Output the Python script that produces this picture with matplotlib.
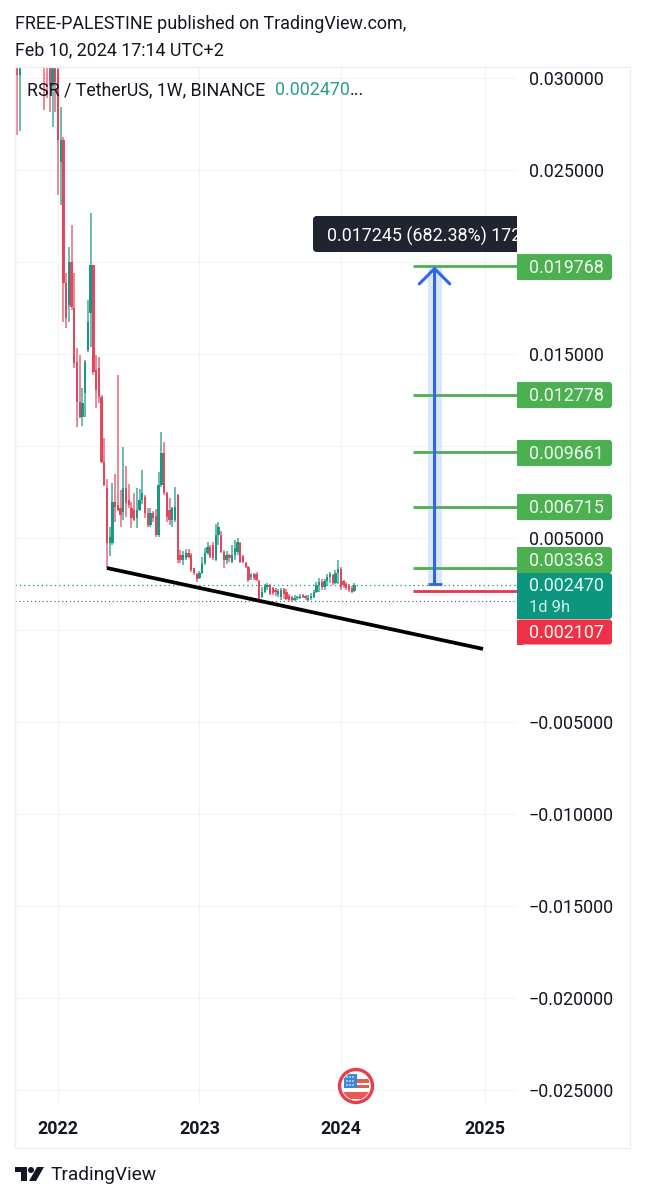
import datetime as dt
import matplotlib
matplotlib.use("Agg")
import matplotlib.pyplot as plt
import matplotlib.dates as mdates
from matplotlib.patches import Circle, FancyBboxPatch, Polygon, Rectangle

plt.rcParams['font.family'] = ['Roboto', 'DejaVu Sans']

# weekly candles, first one is 15 weeks before 2022-01-03
first_week = dt.datetime(2021, 9, 20)
opens = [
    .0325, .03018, .0335, .0385, .0360, .0345, .0395, .0365, .0350, .0340,
    .0330, .0335, .0325, .0296, .0320,
    .0305, .02545, .02665, .01887, .01767, .02001, .01751, .01457, .0124, .01158,
    .01289, .01523, .01724, .01985, .01414, .01425, .01267, .00914, .00772, .00473,
    .00473, .00696, .0068, .00663, .00642, .00772, .00707, .00663, .00653, .00609,
    .00653, .00707, .00723, .00636, .00571, .00636, .0062, .00517, .00789, .00963,
    .00745, .00653, .00598, .00598, .00734, .00408, .00381, .00392, .00419, .00408,
    .00337, .00305, .00283, .0031, .00364, .00419, .00451, .00462, .00381, .00517,
    .00517, .00424, .00381, .00408, .0037, .00408, .00424, .00473, .00402, .00364,
    .00343, .00288, .00305, .00305, .00266, .00179, .00207, .00234, .00245, .00228,
    .00218, .00196, .00179, .00223, .00207, .00185, .00179, .00163, .00174, .00174,
    .0019, .00185, .00163, .00174, .00179, .00207, .00245, .00261, .00234, .00266,
    .00288, .00299, .00256, .0031, .00332, .00266, .0025, .00239, .00228, .00212,
]
highs = [
    .036, .036, .0400, .0420, .0395, .0410, .0430, .0385, .0375, .0360,
    .0345, .0350, .034, .034, .033,
    .0325, .02844, .02681, .01941, .02083, .02202, .01941, .01534, .01495, .01316,
    .01468, .01795, .02268, .01985, .01495, .01485, .01278, .01044, .00821, .0056,
    .00799, .00848, .01387, .00761, .00995, .00892, .00794, .00696, .00745, .00772,
    .00767, .0087, .00734, .00663, .00663, .00647, .00658, .00859, .01077, .01022,
    .0075, .00718, .00669, .00778, .0074, .00435, .0043, .0044, .0044, .00419,
    .00337, .0031, .00321, .00397, .00446, .00479, .00462, .00479, .00576, .00587,
    .00538, .00435, .0043, .00413, .00462, .00489, .005, .00479, .00408, .0037,
    .00348, .0031, .0031, .00315, .00272, .00234, .0025, .00256, .0025, .00234,
    .00228, .00223, .00228, .00228, .00223, .00196, .00185, .0019, .00185, .00196,
    .00196, .0019, .0019, .00201, .00218, .00261, .00283, .00277, .00277, .00305,
    .00315, .00305, .00326, .00381, .00343, .00272, .00261, .0025, .00239, .00256,
]
lows = [
    .02692, .02714, .0325, .0345, .0330, .0330, .0350, .0335, .0320, .0315,
    .02828, .02893, .02817, .02735, .02817,
    .02366, .02311, .01675, .01642, .01675, .0174, .01425, .01104, .01153, .01109,
    .01158, .01512, .01539, .01387, .01207, .01234, .0091, .00783, .00337, .00402,
    .00462, .00587, .00647, .0056, .00598, .00614, .00663, .00555, .00593, .00555,
    .00647, .00685, .00609, .0056, .0056, .00587, .00506, .00506, .00778, .00734,
    .00587, .00571, .0056, .00587, .00364, .00364, .00353, .00381, .00392, .00315,
    .00299, .00261, .00277, .00305, .00353, .00408, .00392, .00381, .00375, .00462,
    .00419, .00337, .00359, .0037, .00364, .00381, .00408, .00365, .00364, .00337,
    .00261, .00272, .00272, .00266, .00152, .00174, .00201, .00218, .0019, .0019,
    .00185, .00179, .00163, .00169, .00163, .00158, .00158, .00158, .00163, .00169,
    .00174, .00163, .00158, .00163, .00174, .00201, .00207, .00218, .00218, .00239,
    .00256, .00245, .0025, .0025, .00218, .00228, .00218, .00207, .00201, .00207,
]
closes = [
    .03018, .0335, .0385, .0360, .0345, .0395, .0365, .0350, .0340, .0330,
    .0310, .0308, .02964, .0320, .0298,
    .02665, .02665, .01887, .01697, .02001, .01756, .01452, .0124, .01158, .01234,
    .01457, .01675, .01985, .01403, .01305, .01267, .00914, .00789, .00473, .00506,
    .00696, .00669, .00653, .00625, .00772, .00691, .0068, .00609, .00598, .00653,
    .00707, .00745, .00636, .00571, .00636, .00609, .00517, .00789, .00963, .00745,
    .00614, .00598, .00663, .00669, .00381, .00381, .00408, .00419, .00397, .00326,
    .0031, .00277, .0031, .00364, .00419, .00451, .00397, .00392, .00517, .0056,
    .00424, .00381, .00408, .00392, .00408, .00446, .00479, .0037, .0037, .00343,
    .00272, .00299, .00283, .00272, .00163, .00207, .00239, .00245, .00196, .00201,
    .00207, .00212, .00218, .00196, .00169, .00163, .00163, .00174, .00179, .00185,
    .00179, .00174, .00174, .00185, .00207, .00245, .00261, .00234, .00266, .00288,
    .00305, .00256, .0031, .00332, .00234, .00245, .00228, .00218, .00207, .00247,
]

last_price = 0.00247
low_price = 0.00158
target_levels = [0.019768, 0.012778, 0.009661, 0.006715, 0.003363]
stop_level = 0.002107
measure_text = "0.017245 (682.38%) 1724"

year_ticks = [2022, 2023, 2024, 2025]
price_ticks = [0.03, 0.025, 0.02, 0.015, 0.01, 0.005, 0.0, -0.005, -0.01, -0.015, -0.02, -0.025]
hidden_price_ticks = [0.02, 0.01, 0.0]  # these sit under the tags in the screenshot
year_tick_dates = [dt.datetime(2022, 1, 3), dt.datetime(2023, 1, 2), dt.datetime(2024, 1, 1), dt.datetime(2025, 1, 6)]

# tag label, centre y on the page
tag_labels = ["0.019768", "0.012778", "0.009661", "0.006715", "0.003363"]
tag_centres = [267, 395, 453, 507, 560]

RED = "#e2425a"
GREEN = "#14957f"
TAG_GREEN = "#4caf50"
TEAL = "#0c957f"
TAG_RED = "#ee3049"
BLUE = "#2d66e6"
INK = "#131722"
GRID = "#f2f3f5"

W, H = 645, 1200
fig = plt.figure(figsize=(W / 100, H / 100), dpi=100, facecolor="white")

# chart pane in pixels: x 15-517, y 67-1105
ax = fig.add_axes([15 / W, 1 - 1105 / H, (517 - 15) / W, (1105 - 67) / H])
ax.set_ylim((630 - 1105) / 18390, (630 - 67) / 18390)
anchor = dt.datetime(2022, 1, 3)
ax.set_xlim(anchor + dt.timedelta(days=(15 - 58) / 2.72 * 7), anchor + dt.timedelta(days=(517 - 58) / 2.72 * 7))

for s in ax.spines.values():
    s.set_visible(False)
ax.set_yticks(price_ticks)
ax.set_yticklabels(["" if p in hidden_price_ticks else f"{p:.6f}".replace("-", "\u2212") for p in price_ticks])
ax.yaxis.tick_right()
ax.set_xticks(year_tick_dates)
ax.set_xticklabels([str(y) for y in year_ticks], fontweight="bold")
ax.tick_params(axis="y", length=0, pad=8.6, labelsize=12.9, labelcolor=INK)
ax.tick_params(axis="x", length=0, pad=11, labelsize=12.9, labelcolor=INK)
ax.grid(True, color=GRID, lw=0.8)
ax.set_axisbelow(True)

ax.axhline(last_price, color=TEAL, lw=0.9, ls=(0, (1, 2.5)), zorder=1)
ax.axhline(low_price, color="#555566", lw=0.8, ls=(0, (1, 2.5)), zorder=1)

# candles
dates = [first_week + dt.timedelta(weeks=n) for n in range(len(opens))]
colors = [GREEN if c >= o else RED for o, c in zip(opens, closes)]
ax.vlines(dates, lows, highs, colors=colors, lw=1.1, alpha=0.8, zorder=2)
tops = [max(o, c) for o, c in zip(opens, closes)]
bots = [min(o, c) for o, c in zip(opens, closes)]
ax.bar(dates, [t - b for t, b in zip(tops, bots)], bottom=bots, width=6, color=colors, lw=0, alpha=0.95, zorder=3)

# drawings
trend_x = [dt.datetime(2022, 5, 9), dt.datetime(2025, 1, 1)]
trend_y = [0.00337, -0.00103]
ax.plot(trend_x, trend_y, color="black", lw=2.7, solid_capstyle="butt", zorder=4)

level_start = dt.datetime(2024, 7, 4)
level_end = ax.get_xlim()[1]
ax.hlines(target_levels, level_start, mdates.num2date(level_end), colors=TAG_GREEN, lw=2, zorder=4)
ax.hlines([stop_level], level_start, mdates.num2date(level_end), colors="#e8344e", lw=2, zorder=4)

arrow_x = dt.datetime(2024, 8, 29)
band_x = [dt.datetime(2024, 8, 11), dt.datetime(2024, 9, 16)]
arrow_from = 0.0025
arrow_to = target_levels[0]
ax.fill_between(band_x, arrow_from, arrow_to, color="#dbe6fb", lw=0, zorder=3.5)
ax.hlines([arrow_from], band_x[0], band_x[1], colors=BLUE, lw=2, zorder=5)
ax.annotate("", xy=(arrow_x, arrow_to), xytext=(arrow_x, arrow_from),
            arrowprops=dict(arrowstyle="->,head_length=11,head_width=11", mutation_scale=1,
                            color=BLUE, lw=2.2, shrinkA=0, shrinkB=0), zorder=5)

# page overlay for everything laid out in pixels
page = fig.add_axes([0, 0, 1, 1], facecolor="none")
page.set_xlim(0, W)
page.set_ylim(H, 0)
page.axis("off")

page.add_patch(Rectangle((15, 67), 615, 1081, fill=False, ec="#eeeeee", lw=1))

page.text(15, 24, "FREE-PALESTINE published on TradingView.com,", fontsize=12.85, color=INK, va="center")
page.text(15, 50, "Feb 10, 2024 17:14 UTC+2", fontsize=12.85, color=INK, va="center")
page.text(27, 90, "RSR / TetherUS, 1W, BINANCE", fontsize=12.85, color=INK, va="center")
page.text(275, 90, "0.002470", fontsize=12.85, color="#26a08c", va="center")
page.text(350, 90, "...", fontsize=12.85, color=INK, va="center")

# measure tooltip, cut off by the price scale
tip_clip = Rectangle((300, 200), 217, 70, transform=page.transData)
tip_box = FancyBboxPatch((313, 216), 214, 36, boxstyle="round,pad=0,rounding_size=4",
                         fc="#20242e", ec="none", zorder=3)
page.add_patch(tip_box)
tip_box.set_clip_path(tip_clip)
tip = page.text(327, 236, measure_text, fontsize=12.9, color="white", va="center", zorder=4)
tip.set_clip_path(tip_clip)
tip.set_clip_on(True)


def tag(cy, h, text, color):
    # square on the left, rounded on the right
    page.add_patch(FancyBboxPatch((517, cy - h / 2), 95, h, boxstyle="round,pad=0,rounding_size=3",
                                  fc=color, ec="none", zorder=5))
    page.add_patch(Rectangle((517, cy - h / 2), 6, h, fc=color, ec="none", zorder=5))
    if text:
        page.text(529, cy + 1, text, fontsize=12.9, color="#eefaf0", va="center", zorder=6)


for label, cy in zip(tag_labels, tag_centres):
    tag(cy, 26, label, TAG_GREEN)

tag(596, 46, "", TEAL)
page.text(529, 586, "0.002470", fontsize=12.9, color="#e6fbf6", va="center", zorder=6)
page.text(529, 607, "1d 9h", fontsize=12, color="#c8f0e8", va="center", zorder=6)
tag(632, 25, "0.002107", TAG_RED)

# flag badge
page.add_patch(Circle((356, 1086), 16.5, fc="white", ec="#ea3d4c", lw=2.4, zorder=5))
inner = Circle((356, 1086), 14, transform=page.transData)
for x, y, w, h, c in [(357, 1079, 12, 4, "#ea5a55"), (357, 1085, 12, 3, "#ea5a55"),
                      (342, 1092, 28, 7, "#ea5a55"), (344, 1074, 13, 14, "#3a86d8")]:
    p = Rectangle((x, y), w, h, fc=c, ec="none", zorder=6)
    page.add_patch(p)
    p.set_clip_path(inner)
for dx in (347, 350, 353):
    for dy in (1077, 1081, 1085):
        page.add_patch(Circle((dx, dy), 0.8, fc="white", ec="none", zorder=7))

# tradingview logo
page.add_patch(Polygon([(15, 1167), (27, 1167), (27, 1181), (21, 1181), (21, 1172), (15, 1172)], fc=INK, ec="none"))
page.add_patch(Circle((31, 1170), 3, fc=INK, ec="none"))
page.add_patch(Polygon([(37, 1167), (44, 1167), (36, 1181), (29, 1181)], fc=INK, ec="none"))
page.text(50, 1175, "TradingView", fontsize=13.8, color=INK, va="center")

fig.savefig("out.png", dpi=100)
